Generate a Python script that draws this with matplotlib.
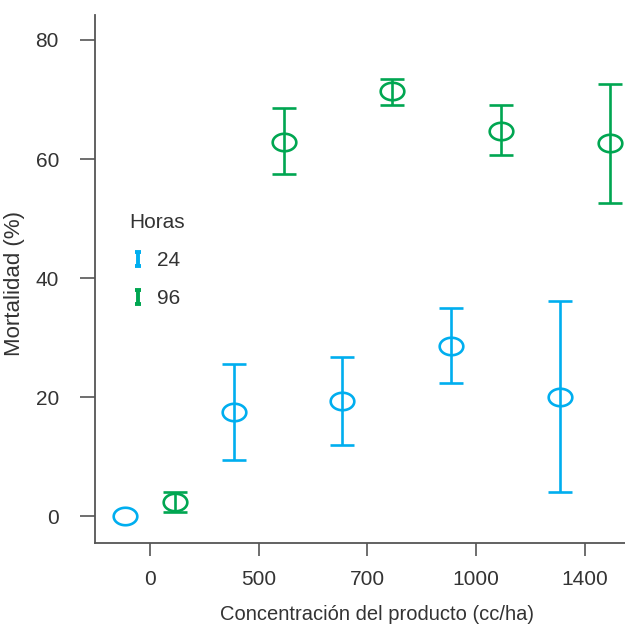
import numpy as np
import matplotlib
matplotlib.use("Agg")
from matplotlib import pyplot as plt
from matplotlib.path import Path
from matplotlib.lines import Line2D

# data
doses = ["0", "500", "700", "1000", "1400"]
hours = ["24", "96"]
mort_24 = [0.0, 17.5, 19.3, 28.6, 20.0]
low_24 = [0.0, 9.5, 11.9, 22.3, 4.1]
high_24 = [0.0, 25.5, 26.8, 34.9, 36.1]
mort_96 = [2.3, 62.9, 71.4, 64.7, 62.7]
low_96 = [0.7, 57.5, 69.1, 60.7, 52.6]
high_96 = [4.0, 68.6, 73.4, 69.1, 72.6]

colors = ["#00AEEF", "#00A651"]
txt = "#333333"
fs = 15

plt.rcParams['font.family'] = ['Liberation Sans', 'DejaVu Sans']

# open ellipse marker (wider than tall)
t = np.linspace(0, 2*np.pi, 60)
ellipse = Path(np.column_stack([np.cos(t), 0.74*np.sin(t)]), closed=True)
# "I" shaped marker for the legend
ibar = Path([(-0.4, -1), (0.4, -1), (0, -1), (0, 1), (-0.4, 1), (0.4, 1)],
            [Path.MOVETO, Path.LINETO, Path.MOVETO, Path.LINETO, Path.MOVETO, Path.LINETO])

fig = plt.figure(figsize=(6.25, 6.25), dpi=100)
ax = fig.add_axes([0.152, 0.131, 0.848, 0.845])

x = np.arange(len(doses))
off = 0.23
for i, (m, lo, hi) in enumerate([(mort_24, low_24, high_24), (mort_96, low_96, high_96)]):
    m = np.array(m)
    lo = np.array(lo)
    hi = np.array(hi)
    xs = x + (-off if i == 0 else off)
    has = hi > lo  # no bar where there is no spread
    err = [(m - lo)[has], (hi - m)[has]]
    ax.errorbar(xs[has], m[has], yerr=err, fmt='none', ecolor=colors[i],
                elinewidth=1.9, capsize=8.6, capthick=1.9)
    ax.plot(xs, m, linestyle='none', marker=ellipse, markersize=17,
            markerfacecolor='none', markeredgecolor=colors[i], markeredgewidth=1.9)

ax.set_xlim(-0.506, 4.37)
ax.set_ylim(-4.54, 84.2)
ax.set_xticks(x)
ax.set_xticklabels(doses)
ax.set_yticks([0, 20, 40, 60, 80])

for s in ['top', 'right']:
    ax.spines[s].set_visible(False)
for s in ['left', 'bottom']:
    ax.spines[s].set_color('#555555')
    ax.spines[s].set_linewidth(1.3)
ax.tick_params(axis='y', length=11, width=1.2, color='#555555', labelsize=fs,
               labelcolor=txt, pad=15)
ax.tick_params(axis='x', length=9, width=1.2, color='#555555', labelsize=fs,
               labelcolor=txt, pad=10)

ax.set_xlabel("Concentración del producto (cc/ha)", fontsize=14.5, color=txt)
ax.set_ylabel("Mortalidad (%)", fontsize=16, color=txt)
ax.xaxis.set_label_coords(0.532, -0.117)
ax.yaxis.set_label_coords(-0.132, 0.491)

handles = [Line2D([], [], linestyle='none', marker=ibar, markersize=10.5,
                  markeredgecolor=c, markeredgewidth=2.8) for c in colors]
leg = ax.legend(handles, hours, title="Horas", loc='upper left',
                bbox_to_anchor=(0.03, 0.66), frameon=False, fontsize=fs,
                title_fontsize=fs, alignment='left', labelspacing=0.9,
                handlelength=0.8, handletextpad=0.5)
for tx in leg.get_texts():
    tx.set_color(txt)
leg.get_title().set_color(txt)

fig.savefig("out.png", dpi=100)
